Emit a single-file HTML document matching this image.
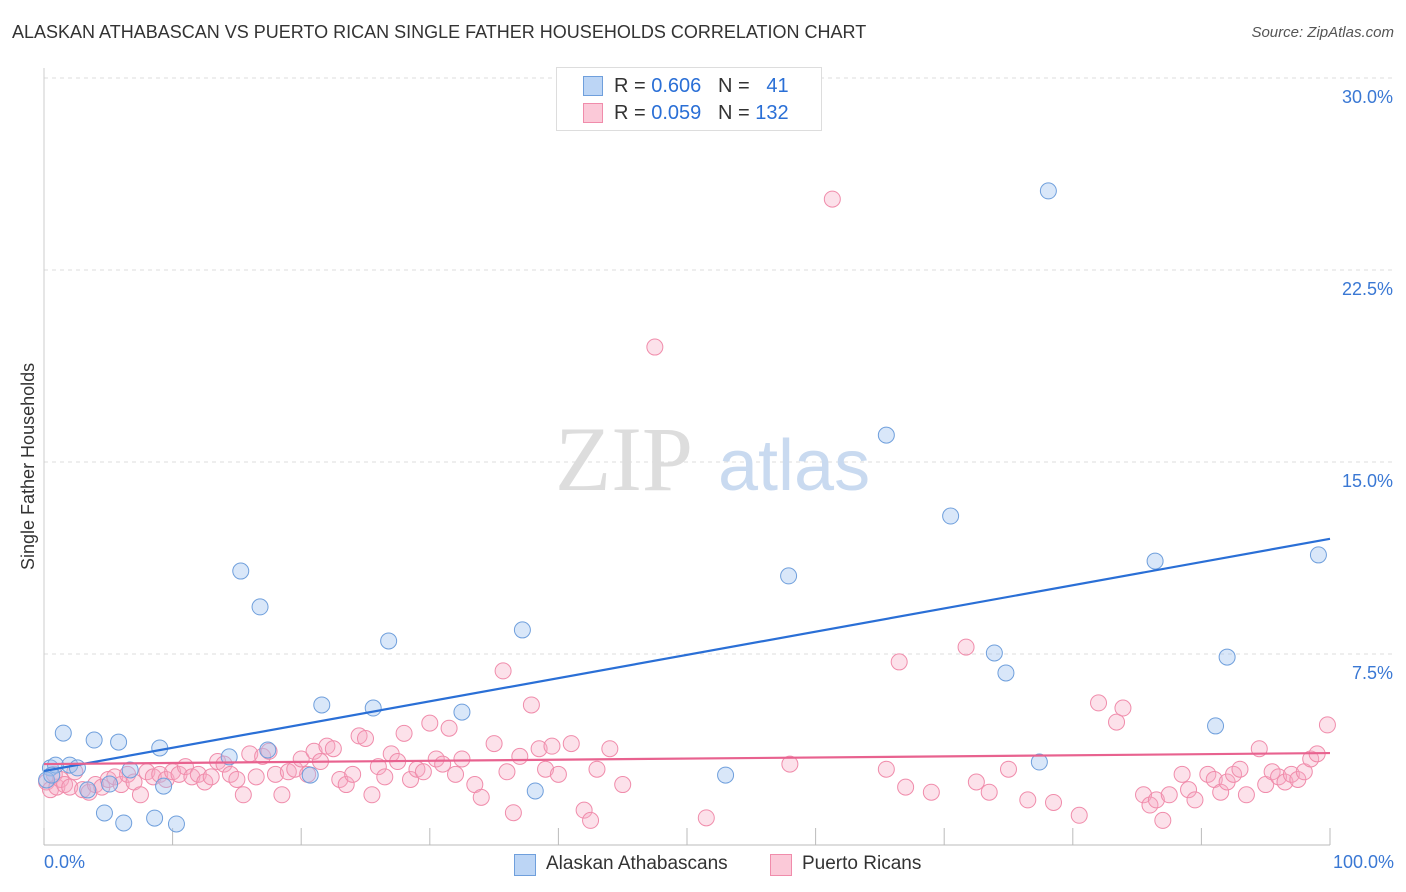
<!DOCTYPE html>
<html><head><meta charset="utf-8">
<style>
body{margin:0;background:#fff;font-family:"Liberation Sans",sans-serif;}
#wrap{position:relative;width:1406px;height:892px;overflow:hidden;}
.t{position:absolute;white-space:nowrap;}
</style></head>
<body>
<div id="wrap">
<div class="t" style="left:12px;top:22px;font-size:18px;color:#333;">ALASKAN ATHABASCAN VS PUERTO RICAN SINGLE FATHER HOUSEHOLDS CORRELATION CHART</div>
<div class="t" style="right:12px;top:24px;font-size:15px;color:#555;font-style:italic;">Source: ZipAtlas.com</div>
<svg id="chart" width="1406" height="892" style="position:absolute;left:0;top:0"></svg>
</div>
<script>
const yTicks=[7.5,15,22.5,30];
const yTickLabels=["7.5%","15.0%","22.5%","30.0%"];
const blueX=[0.5,0.9,1.5,2.0,2.6,3.4,3.9,4.7,5.1,5.8,6.2,6.7,8.6,9.0,9.3,10.3,14.4,15.3,16.8,17.4,20.7,21.6,25.6,26.8,32.5,37.2,38.2,53.0,57.9,65.5,70.5,73.9,74.8,77.4,78.1,86.4,91.1,92.0,99.1,0.2,0.6];
const blueY=[3.05,3.16,4.41,3.16,3.05,2.19,4.14,1.29,2.42,4.06,0.9,2.97,1.09,3.83,2.34,0.86,3.48,10.74,9.34,3.75,2.77,5.51,5.39,8.01,5.23,8.44,2.15,2.77,10.55,16.05,12.89,7.54,6.76,3.28,25.59,11.13,4.69,7.38,11.37,2.58,2.77];
const pinkX=[0.2,0.5,0.8,1.0,1.3,1.6,2.0,2.4,3.0,3.5,4.0,4.5,5.0,5.5,6.0,6.5,7.0,7.5,8.0,8.5,9.0,9.5,10.0,10.5,11.0,11.5,12.0,12.5,13.0,13.5,14.0,14.5,15.0,15.5,16.0,16.5,17.0,17.5,18.0,18.5,19.0,19.5,20.0,20.5,21.0,21.5,22.0,22.5,23.0,23.5,24.0,24.5,25.0,25.5,26.0,26.5,27.0,27.5,28.0,28.5,29.0,29.5,30.0,30.5,31.0,31.5,32.0,32.5,33.5,34.0,35.0,35.7,36.0,36.5,37.0,37.9,38.5,39.0,39.5,40.0,41.0,42.0,42.5,43.0,44.0,45.0,47.5,51.5,58.0,61.3,65.5,66.5,67.0,69.0,71.7,72.5,73.5,75.0,76.5,78.5,80.5,82.0,83.4,83.9,85.5,86.0,86.5,87.0,87.5,88.5,89.0,89.5,90.5,91.0,91.5,92.0,92.5,93.0,93.5,94.5,95.0,95.5,96.0,96.5,97.0,97.5,98.0,98.5,99.0,99.8];
const pinkY=[2.5,2.2,2.8,2.3,2.6,2.4,2.3,2.9,2.2,2.1,2.4,2.3,2.6,2.7,2.4,2.8,2.5,2.0,2.9,2.7,2.8,2.6,2.9,2.8,3.1,2.7,2.8,2.5,2.7,3.3,3.2,2.8,2.6,2.0,3.6,2.7,3.5,3.7,2.8,2.0,2.9,3.0,3.4,2.8,3.7,3.3,3.9,3.8,2.6,2.4,2.8,4.3,4.2,2.0,3.1,2.7,3.6,3.3,4.4,2.6,3.0,2.9,4.8,3.4,3.2,4.6,2.8,3.4,2.4,1.9,4.0,6.84,2.9,1.3,3.5,5.51,3.8,3.0,3.9,2.8,4.0,1.4,1.0,3.0,3.8,2.4,19.49,1.1,3.2,25.27,3.0,7.19,2.3,2.1,7.77,2.5,2.1,3.0,1.8,1.7,1.2,5.59,4.84,5.39,2.0,1.6,1.8,1.0,2.0,2.8,2.2,1.8,2.8,2.6,2.1,2.5,2.8,3.0,2.0,3.8,2.4,2.9,2.7,2.5,2.8,2.6,2.9,3.4,3.6,4.73];
const blueTrend=[2.93,12.0];
const pinkTrend=[3.2,3.63];
const NS="http://www.w3.org/2000/svg";
const svg=document.getElementById('chart');
const X0=44,X1=1330,Y0=846,PXPER=25.6;
const sx=v=>X0+(X1-X0)*v/100;
const sy=v=>Y0-PXPER*v;
function mk(tag,attrs){const e=document.createElementNS(NS,tag);for(const k in attrs)e.setAttribute(k,attrs[k]);svg.appendChild(e);return e;}
// gridlines
yTicks.forEach((t,i)=>{
 const g=mk('line',{x1:X0,x2:1392,y1:sy(t),y2:sy(t),stroke:'#ddd','stroke-dasharray':'4,4'});
 
 
 const tx=mk('text',{x:1393,y:sy(t)+25,'text-anchor':'end','font-size':18,fill:'#3a78d4','font-family':'Liberation Sans, sans-serif'});
 tx.textContent=yTickLabels[i];
 
 
});
// axes
const ya=mk('line',{x1:X0,x2:X0,y1:68,y2:845,stroke:'#ccc'});


const xa=mk('line',{x1:X0,x2:X1,y1:845,y2:845,stroke:'#bbb'});


for(let i=0;i<=10;i++){
 const tk=mk('line',{x1:sx(i*10),x2:sx(i*10),y1:828,y2:845,stroke:'#bbb'});
 
 
}
// watermark
const wm=mk('text',{x:555,y:490,'font-size':92,fill:'#ddd','font-family':'Liberation Serif, serif'});
wm.textContent='ZIP';


const wm2=mk('text',{x:718,y:490,'font-size':72,fill:'#c9daf0','font-family':'Liberation Sans, sans-serif'});
wm2.textContent='atlas';


// points
pinkX.forEach((x,i)=>{
 const c=mk('circle',{cx:sx(x),cy:sy(pinkY[i]),r:8,fill:'rgba(245,170,195,0.35)',stroke:'#f08cab','stroke-width':1});
 
 
});
blueX.forEach((x,i)=>{
 const c=mk('circle',{cx:sx(x),cy:sy(blueY[i]),r:8,fill:'rgba(160,195,240,0.4)',stroke:'#6f9fdc','stroke-width':1});
 
 
});
const bl=mk('line',{x1:sx(0),y1:sy(blueTrend[0]),x2:sx(100),y2:sy(blueTrend[1]),stroke:'#2a6fd6','stroke-width':2.2});


const pl=mk('line',{x1:sx(0),y1:sy(pinkTrend[0]),x2:sx(100),y2:sy(pinkTrend[1]),stroke:'#e8628f','stroke-width':2.2});


</script>
<div class="t" style="left:44px;top:852px;font-size:18px;color:#3a78d4;">0.0%</div>
<div class="t" style="right:12px;top:852px;font-size:18px;color:#3a78d4;">100.0%</div>
<div class="t" style="left:18px;top:570px;font-size:18px;color:#333;transform:rotate(-90deg);transform-origin:0 0;">Single Father Households</div>
<div style="position:absolute;left:556px;top:67px;width:264px;height:62px;border:1px solid #ddd;background:#fff;font-size:20px;">
 <div style="position:absolute;left:26px;top:8px;width:18px;height:18px;background:#bcd5f5;border:1px solid #6f9fdc;"></div>
 <div class="t" style="left:57px;top:7px;color:#333;">R = <span style="color:#2a6fd6">0.606</span>&nbsp;&nbsp;&nbsp;N = &nbsp;&nbsp;<span style="color:#2a6fd6">41</span></div>
 <div style="position:absolute;left:26px;top:35px;width:18px;height:18px;background:#fbc9d8;border:1px solid #f08cab;"></div>
 <div class="t" style="left:57px;top:34px;color:#333;">R = <span style="color:#2a6fd6">0.059</span>&nbsp;&nbsp;&nbsp;N = <span style="color:#2a6fd6">132</span></div>
</div>
<div style="position:absolute;left:514px;top:854px;width:20px;height:20px;background:#bcd5f5;border:1px solid #6f9fdc;"></div>
<div class="t" style="left:546px;top:853px;font-size:19px;color:#333;">Alaskan Athabascans</div>
<div style="position:absolute;left:770px;top:854px;width:20px;height:20px;background:#fbc9d8;border:1px solid #f08cab;"></div>
<div class="t" style="left:802px;top:853px;font-size:19px;color:#333;">Puerto Ricans</div>
</body></html>
